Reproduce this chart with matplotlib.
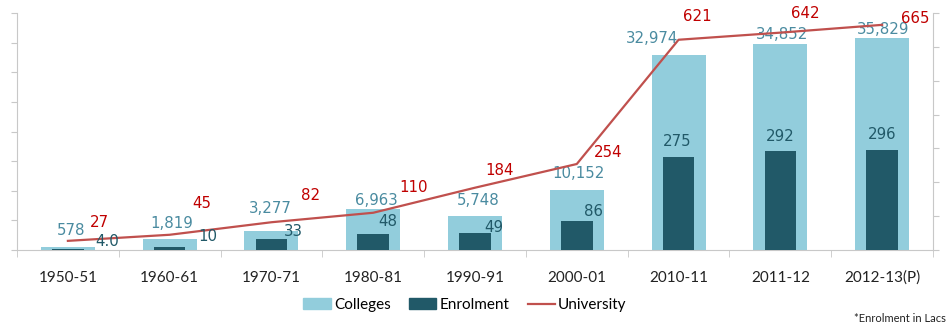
import numpy as np
import matplotlib.pyplot as plt
from matplotlib.patches import Patch
from matplotlib.lines import Line2D

years = ['1950-51', '1960-61', '1970-71', '1980-81', '1990-91',
         '2000-01', '2010-11', '2011-12', '2012-13(P)']
colleges = [578, 1819, 3277, 6963, 5748, 10152, 32974, 34852, 35829]
enrolment = [4.0, 10, 33, 48, 49, 86, 275, 292, 296]
university = [27, 45, 82, 110, 184, 254, 621, 642, 665]

college_labels = ['578', '1,819', '3,277', '6,963', '5,748', '10,152',
                  '32,974', '34,852', '35,829']
enrol_labels = ['4.0', '10', '33', '48', '49', '86', '275', '292', '296']
univ_labels = [str(v) for v in university]

# label nudges in pixels (dx, dy) from the top of each mark
college_off = [(3, 16), (2, 16), (-1, 22), (3, 8), (3, 15), (2, 16),
               (-26, 16), (2, 9), (1, 8)]
enrol_off = [(39, 7), (38, 10), (22, 7), (15, 12), (19, 6), (17, 9),
             (-1, 15), (0, 15), (0, 15)]
univ_off = [(32, 18), (32, 31), (39, 27), (40, 25), (25, 17), (31, 12),
            (19, 23), (25, 19), (33, 6)]

light_blue = '#92cddc'
dark_teal = '#215968'
red_line = '#c0504d'
red_text = '#c00000'
blue_text = '#4a8ba0'
grid_grey = '#c8c8c8'
narrow = ['Lato', 'DejaVu Sans']

fig = plt.figure(figsize=(9.49, 3.24), dpi=100)
ax = fig.add_axes([17 / 949, 74 / 324, 916 / 949, 237 / 324])
ax2 = ax.twinx()

x = np.arange(len(years))
ax.bar(x, colleges, width=0.53, color=light_blue, zorder=1)
ax2.bar(x, enrolment, width=0.31, color=dark_teal, zorder=2)
ax2.plot(x, university, color=red_line, lw=1.6, zorder=3)

ax.set_ylim(0, 40000)
ax2.set_ylim(0, 700)
ax.set_xlim(-0.5, len(years) - 0.5)

ax.set_yticks(np.arange(0, 40001, 5000))
ax2.set_yticks(np.arange(0, 701, 100))
ax.set_yticklabels([])
ax2.set_yticklabels([])

ax.set_xticks(x)
ax.set_xticklabels(years, family=narrow, fontsize=11, color='#222222')
ax.set_xticks(np.arange(-0.5, len(years)), minor=True)
ax.tick_params(axis='x', which='major', length=0, pad=15)
ax.tick_params(axis='x', which='minor', length=5, color=grid_grey)
ax.tick_params(axis='y', length=4, color=grid_grey)
ax2.tick_params(axis='y', length=4, color=grid_grey)

for a in (ax, ax2):
    a.spines['top'].set_visible(False)
    for s in ('left', 'right', 'bottom'):
        a.spines[s].set_color(grid_grey)
ax.spines['right'].set_visible(False)
ax2.spines['left'].set_visible(False)
ax2.spines['bottom'].set_visible(False)

for i in range(len(years)):
    ax.annotate(college_labels[i], (x[i], colleges[i]), xytext=college_off[i],
                textcoords='offset pixels', ha='center', va='center',
                fontsize=10.8, color=blue_text, zorder=4)
    ax2.annotate(enrol_labels[i], (x[i], enrolment[i]), xytext=enrol_off[i],
                 textcoords='offset pixels', ha='center', va='center',
                 fontsize=10.8, color=dark_teal, zorder=4)
    ax2.annotate(univ_labels[i], (x[i], university[i]), xytext=univ_off[i],
                 textcoords='offset pixels', ha='center', va='center',
                 fontsize=10.8, color=red_text, zorder=4)

handles = [Patch(color=light_blue, label='Colleges'),
           Patch(color=dark_teal, label='Enrolment'),
           Line2D([], [], color=red_line, lw=1.6, label='University')]
fig.legend(handles=handles, loc='center', bbox_to_anchor=(465 / 949, 1 - 305 / 324),
           ncol=3, frameon=False, prop={'family': narrow, 'size': 11},
           handlelength=1.8, handleheight=0.7, handletextpad=0.2,
           columnspacing=1.2)

fig.text(946 / 949, 1 - 318 / 324, '*Enrolment in Lacs', ha='right', va='center',
         family=narrow, fontsize=8, color='#222222')

fig.savefig('out.png', dpi=100)
